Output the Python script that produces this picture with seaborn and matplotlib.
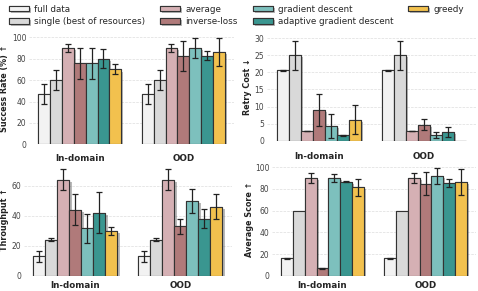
import numpy as np
import pandas as pd
import matplotlib
matplotlib.use("Agg")
import matplotlib.pyplot as plt
import matplotlib.patches as mpatches
import matplotlib.patheffects as pe
import seaborn as sns

# data
methods = ["full data", "single (best of resources)", "average", "inverse-loss",
           "gradient descent", "adaptive gradient descent", "greedy"]
settings = ["In-domain", "OOD"]
colors = ["#f2f2f2", "#d9d9d9", "#d5b0b4", "#b07a7a", "#7dc0bd", "#3a9690", "#f2c14e"]

# rows: In-domain, OOD ; columns: methods
success_mean = [[47, 60, 90, 76, 76, 80, 70],
                [47, 60, 90, 83, 90, 83, 86]]
success_err = [[9.5, 9.5, 4, 14.5, 14.5, 9, 4.7],
               [9.5, 9.5, 4, 14, 9, 4.6, 13]]

retry_mean = [[20.6, 25, 2.8, 9, 4.3, 1.6, 6.2],
              [20.6, 25, 2.8, 4.7, 1.7, 2.5, 0]]
retry_err = [[0.2, 4.3, 0.1, 4.6, 3.6, 0.1, 4.3],
             [0.2, 4.3, 0.1, 1.6, 0.8, 1.4, np.nan]]

throughput_mean = [[13, 24, 64, 44, 31.5, 42, 30],
                   [13, 24, 64, 33, 50, 38, 46]]
throughput_err = [[3.6, 1, 7, 10.5, 9.5, 13.5, 2.7],
                  [3.6, 1, 7, 5, 8, 6.2, 8.5]]

score_mean = [[16, 60, 90, 7, 90, 86.7, 81.5],
              [16, 60, 90, 85, 92, 85.5, 86.5]]
score_err = [[0.7, np.nan, 4.5, 0.5, 4, 0.4, 8],
             [0.7, np.nan, 4.5, 11, 7, 3.7, 12]]

sns.set_theme(style="whitegrid")
plt.rcParams["font.family"] = ["DejaVu Sans"]

fig = plt.figure(figsize=(4.78, 2.91), dpi=100)

panels = [
    # mean, err, ylabel, ylim, yticks, axes rect, label x, tick pad
    (success_mean, success_err, "Success Rate (%) ↑", 105, [0, 20, 40, 60, 80, 100],
     [0.0607, 0.5041, 0.4289, 0.3859], -0.098, 7),
    (retry_mean, retry_err, "Retry Cost ↓", 31.5, [0, 5, 10, 15, 20, 25, 30],
     [0.5586, 0.5165, 0.437, 0.3701], -0.072, 8),
    (throughput_mean, throughput_err, "Throughput ↑", 75, [0, 20, 40, 60],
     [0.0502, 0.0526, 0.435, 0.3873], -0.072, 4),
    (score_mean, score_err, "Average Score ↑", 104, [0, 20, 40, 60, 80, 100],
     [0.569, 0.0526, 0.4268, 0.3873], -0.088, 4),
]

shadow = [pe.withSimplePatchShadow(offset=(1.5, -1.5), shadow_rgbFace="k", alpha=0.3), pe.Normal()]

for mean, err, ylabel, ytop, yticks, rect, labx, xpad in panels:
    ax = fig.add_axes(rect)
    rows = []
    for i, s in enumerate(settings):
        for j, m in enumerate(methods):
            rows.append({"setting": s, "method": m, "value": mean[i][j]})
    df = pd.DataFrame(rows)
    sns.barplot(data=df, x="setting", y="value", hue="method", hue_order=methods,
                palette=colors, saturation=1, width=0.8, edgecolor="#333333",
                linewidth=0.8, legend=False, ax=ax, zorder=3)

    # error bars at the bar centres
    bar_groups = list(ax.containers)
    for j, cont in enumerate(bar_groups):
        for i, bar in enumerate(cont):
            e = err[i][j]
            if np.isnan(e):
                continue
            xc = bar.get_x() + bar.get_width() / 2
            ax.errorbar(xc, mean[i][j], yerr=e, fmt="none", ecolor="#222222",
                        elinewidth=0.9, capsize=2, capthick=0.9, zorder=5)
    for bar in ax.patches:
        bar.set_path_effects(shadow)

    ax.set_ylim(0, ytop)
    ax.set_yticks(yticks)
    ax.set_xlabel("")
    ax.set_ylabel(ylabel, fontsize=5.8, fontweight="bold", color="#222222")
    ax.yaxis.set_label_coords(labx, 0.5)
    ax.grid(axis="y", linestyle="--", linewidth=0.5, color="#dddddd", zorder=0)
    ax.grid(axis="x", visible=False)
    ax.tick_params(axis="y", labelsize=5.5, labelcolor="#444444", pad=2, length=0)
    ax.tick_params(axis="x", labelsize=6.3, pad=xpad, length=0)
    for t in ax.xaxis.get_major_ticks():
        t.label1.set_fontweight("bold")
    sns.despine(ax=ax, left=True, bottom=True)

handles = [mpatches.Patch(facecolor=c, edgecolor="#333333", linewidth=0.8, label=m,
                          path_effects=shadow) for m, c in zip(methods, colors)]
fig.legend(handles=handles, ncol=4, loc="upper left", bbox_to_anchor=(0.005, 1.005),
           frameon=False, fontsize=6.3, handlelength=2.3, handleheight=0.6,
           handletextpad=0.6, columnspacing=1.7, labelspacing=0.4, borderpad=0.2)

fig.savefig("out.png", dpi=100)
